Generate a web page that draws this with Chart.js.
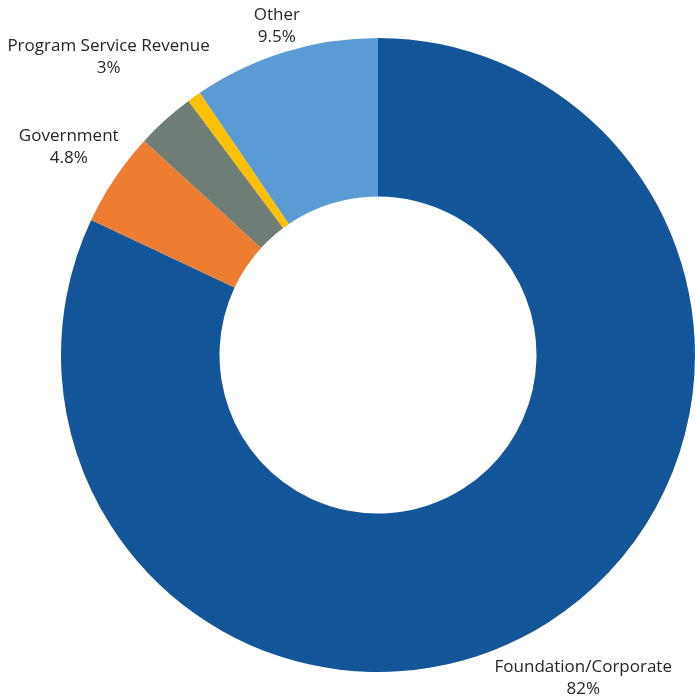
<!DOCTYPE html>
<html>
<head>
<meta charset="utf-8">
<script src="https://cdn.jsdelivr.net/npm/chart.js@4.4.1/dist/chart.umd.min.js"></script>
<style>
    html, body { margin: 0; padding: 0; background: #fff; }
    canvas { display: block; }
</style>
</head>
<body>
<canvas id="revenueChart" width="695" height="700"></canvas>
<script>
//Revenue sources (the small yellow slice has no label in the original)
const sourceNames = ['Foundation/Corporate', 'Government', 'Program Service Revenue', '', 'Other'];
const sourceShares = [82, 4.8, 3, 0.7, 9.5];
const sourceColors = ['#125699', '#ED7D31', '#6E7D76', '#FFC000', '#5B9BD5'];

//Plugin that draws the name and percent outside each slice
const outsideLabels = {
    id: 'outsideLabels',
    afterDatasetsDraw(chart) {
        const ctx = chart.ctx;
        const arcs = chart.getDatasetMeta(0).data;
        const lineHeight = 22;
        const gap = 5;

        ctx.save();
        ctx.font = '17px "Open Sans", "Liberation Sans", sans-serif';
        ctx.fillStyle = '#262626';
        ctx.textAlign = 'center';
        ctx.textBaseline = 'middle';

        arcs.forEach((arc, i) => {
            if (!sourceNames[i]) return;
            const p = arc.getProps(['x', 'y', 'startAngle', 'endAngle', 'outerRadius'], true);
            const mid = (p.startAngle + p.endAngle) / 2;
            const cos = Math.cos(mid);
            const sin = Math.sin(mid);
            const lines = [sourceNames[i], sourceShares[i] + '%'];
            const halfW = Math.max(...lines.map(t => ctx.measureText(t).width)) / 2;
            const halfH = 16;
            //push the text box out until its nearest edge clears the ring
            const dist = p.outerRadius + gap + halfW * Math.abs(cos) + halfH * Math.abs(sin);
            const cx = p.x + cos * dist;
            const cy = p.y + sin * dist;
            ctx.fillText(lines[0], cx, cy - lineHeight / 2);
            ctx.fillText(lines[1], cx, cy + lineHeight / 2);
        });
        ctx.restore();
    }
};

const ctx = document.getElementById('revenueChart').getContext('2d');
new Chart(ctx, {
    type: 'doughnut',
    data: {
        labels: sourceNames,
        datasets: [{
            data: sourceShares,
            backgroundColor: sourceColors,
            borderWidth: 0
        }]
    },
    options: {
        responsive: false,
        animation: false,
        cutout: '50%',
        layout: {
            padding: { left: 61, right: 0, top: 38, bottom: 28 }
        },
        plugins: {
            legend: { display: false },
            tooltip: { enabled: false }
        }
    },
    plugins: [outsideLabels]
});
</script>
</body>
</html>
